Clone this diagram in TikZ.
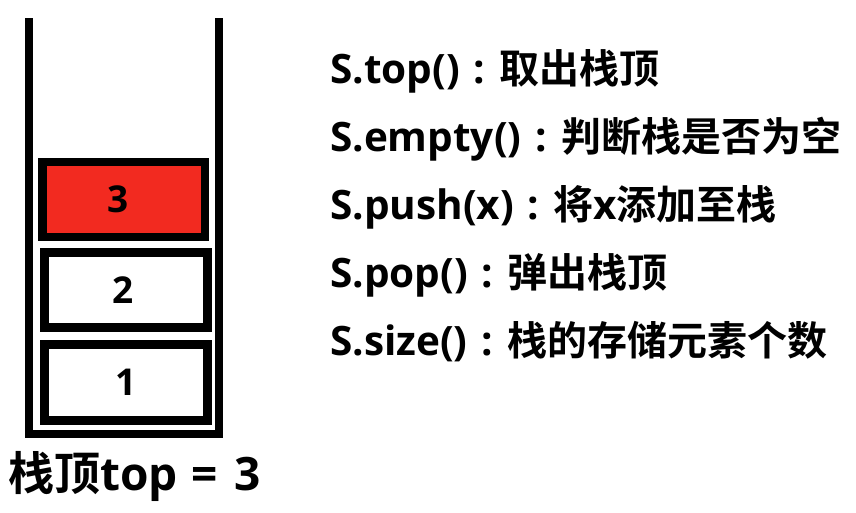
\documentclass[tikz,border=0pt]{standalone}
\usepackage{fontspec}
\newfontfamily\lat{Open Sans}
\newfontfamily\cjk{Noto Sans CJK SC}[BoldFont={* Bold}]
\definecolor{topred}{RGB}{242,42,32}
\newcommand{\latf}{\lat\bfseries\fontsize{40.5}{40}\selectfont}
\newcommand{\cjkf}{\cjk\bfseries\fontsize{40}{40}\selectfont}
\newcommand{\sep}{\hspace{14pt}:\hspace{14pt}}
\begin{document}
\begin{tikzpicture}[x=1pt,y=-1pt,
  wall/.style={line width=8pt},
  cell/.style={draw,line width=8.5pt,rectangle,inner sep=0pt,font=\lat\bfseries\fontsize{37}{37}\selectfont},
  op/.style={anchor=base west,inner sep=0pt}]
\useasboundingbox (0,0) rectangle (856,512);
\fill[white] (0,0) rectangle (856,512);
\draw[wall] (29,18) -- (29,434) -- (219,434) -- (219,18);
\node[cell,fill=topred,minimum width=162.5pt,minimum height=75pt] (c3) at (123.75,199.5) {\hspace*{-12pt}3};
\node[cell,fill=white,minimum width=163pt,minimum height=75pt] (c2) at (126,290) {\hspace*{-6pt}2};
\node[cell,fill=white,minimum width=163pt,minimum height=76pt] (c1) at (126,382.5) {1};
\node[op] (t1) at (330,83) {\latf S.top()\sep\cjkf 取出栈顶};
\node[op] (t2) at (330,151) {\latf S.empty()\sep\cjkf 判断栈是否为空};
\node[op] (t3) at (330,219) {\latf S.push(x)\sep\cjkf 将{\latf x}添加至栈};
\node[op] (t4) at (330,287) {\latf S.pop()\sep\cjkf 弹出栈顶};
\node[op] (t5) at (330,355) {\latf S.size()\sep\cjkf 栈的存储元素个数};
\node[op] (lbl) at (8,490) {\cjk\bfseries\fontsize{46}{46}\selectfont 栈顶\lat\bfseries\fontsize{46}{46}\selectfont top\hspace{14pt}=\hspace{16pt}3};
\end{tikzpicture}
\end{document}
